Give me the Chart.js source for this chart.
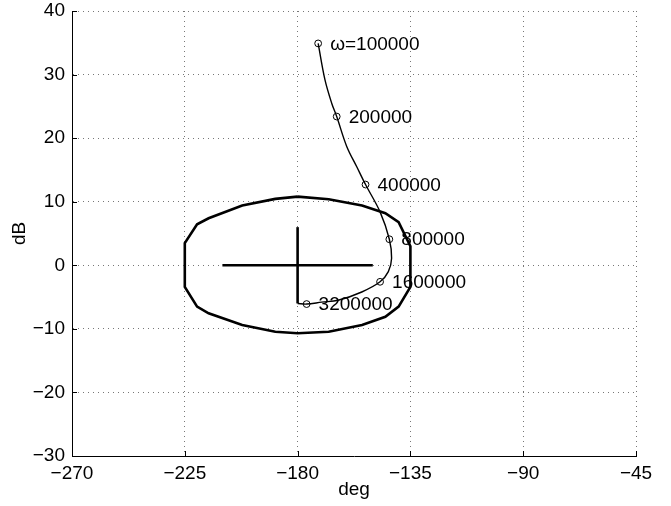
<!DOCTYPE html>
<html>
<head>
<meta charset="utf-8">
<script src="https://cdn.jsdelivr.net/npm/chart.js@4"></script>
<style>
  body { margin: 0; background: #fff; }
  #wrap { width: 671px; height: 506px; }
</style>
</head>
<body>
<div id="wrap"><canvas id="nichols" width="671" height="506"></canvas></div>
<script>
// axis ticks
const xTicks = [-270, -225, -180, -135, -90, -45];
const yTicks = [-30, -20, -10, 0, 10, 20, 30, 40];

// open-loop response (phase deg, gain dB)
const curveDeg = [-171.8, -169.1, -166.4, -164.4, -160.4, -156.4, -152.9, -147.1, -143.4, -142.5, -143.8, -147.1, -154.4, -163.8, -170.4, -176.4, -180];
const curveDb = [34.9, 29.2, 25.5, 23.4, 18.7, 15.5, 12.7, 8.4, 4.1, 1.1, -1.0, -2.6, -4.2, -5.5, -5.8, -6.1, -6.0];

// marked frequencies
const markLabels = ['\u03c9=100000', '200000', '400000', '800000', '1600000', '3200000'];
const markDeg = [-171.8, -164.4, -152.9, -143.4, -147.1, -176.4];
const markDb = [34.9, 23.4, 12.7, 4.1, -2.6, -6.1];

// closed contour round the critical point
const contourDeg = [-180, -167.6, -154.3, -145, -139.7, -135, -135, -139.7, -145, -154.3, -167.6, -180,
                    -188.9, -202.1, -215.5, -220.1, -225, -225, -220.1, -215.5, -202.1, -188.9, -180];
const contourDb = [10.8, 10.4, 9.4, 8.2, 6.8, 3.0, -3.4, -6.5, -8.1, -9.4, -10.45, -10.7,
                   -10.45, -9.4, -7.55, -6.5, -3.4, 3.5, 6.45, 7.4, 9.4, 10.45, 10.8];

// cross at -180 deg / 0 dB
const crossHDeg = [-210, -150];
const crossHDb = [0, 0];
const crossVDeg = [-180, -180];
const crossVDb = [-6, 6];

const FONT = '"Liberation Sans", Arial, Helvetica, sans-serif';

function pts(xs, ys) {
    return xs.map((x, i) => ({ x: x, y: ys[i] }));
}

function lineSet(xs, ys, width, tension) {
    return {
        data: pts(xs, ys),
        showLine: true,
        borderColor: '#000',
        borderWidth: width,
        pointRadius: 0,
        tension: tension,
        fill: false
    };
}

// inward tick marks, like the original figure
const tickMarks = {
    id: 'tickMarks',
    afterDraw(chart) {
        const { ctx, chartArea: a, scales: { x, y } } = chart;
        ctx.save();
        ctx.strokeStyle = '#000';
        ctx.lineWidth = 1;
        ctx.beginPath();
        xTicks.forEach(v => {
            const px = Math.round(x.getPixelForValue(v)) + 0.5;
            ctx.moveTo(px, a.bottom);
            ctx.lineTo(px, a.bottom - 5);
        });
        yTicks.forEach(v => {
            const py = Math.round(y.getPixelForValue(v)) + 0.5;
            ctx.moveTo(a.left, py);
            ctx.lineTo(a.left + 5, py);
        });
        ctx.stroke();
        ctx.restore();
    }
};

// frequency labels next to the markers
const freqLabels = {
    id: 'freqLabels',
    afterDatasetsDraw(chart) {
        const { ctx, scales: { x, y } } = chart;
        ctx.save();
        ctx.font = '19px ' + FONT;
        ctx.fillStyle = '#000';
        ctx.textAlign = 'left';
        ctx.textBaseline = 'middle';
        markLabels.forEach((t, i) => {
            ctx.fillText(t, x.getPixelForValue(markDeg[i]) + 12, y.getPixelForValue(markDb[i]) + 1);
        });
        ctx.restore();
    }
};

new Chart(document.getElementById('nichols').getContext('2d'), {
    type: 'scatter',
    data: {
        datasets: [
            lineSet(contourDeg, contourDb, 2.6, 0),
            lineSet(crossHDeg, crossHDb, 2.6, 0),
            lineSet(crossVDeg, crossVDb, 2.6, 0),
            lineSet(curveDeg, curveDb, 1.4, 0.35),
            {
                data: pts(markDeg, markDb),
                showLine: false,
                pointStyle: 'circle',
                pointRadius: 3.4,
                pointBorderWidth: 1,
                pointBorderColor: '#000',
                pointBackgroundColor: 'rgba(0,0,0,0)'
            }
        ]
    },
    options: {
        responsive: false,
        animation: false,
        layout: { padding: { left: 0, top: 11, right: 35, bottom: 0 } },
        plugins: {
            legend: { display: false },
            tooltip: { enabled: false }
        },
        scales: {
            x: {
                type: 'linear',
                min: -270,
                max: -45,
                afterBuildTicks: s => { s.ticks = xTicks.map(v => ({ value: v })); },
                afterFit: s => { s.height = 50; s.paddingLeft = 0; s.paddingRight = 0; },
                grid: { color: '#777', lineWidth: 1, drawTicks: false },
                border: { display: true, color: '#000', width: 1, dash: [1, 4] },
                ticks: {
                    color: '#000',
                    padding: 6,
                    maxRotation: 0,
                    autoSkip: false,
                    font: { family: FONT, size: 19 },
                    callback: v => String(v).replace('-', '\u2212')
                },
                title: {
                    display: true,
                    text: 'deg',
                    color: '#000',
                    font: { family: FONT, size: 19 },
                    padding: { top: 0, bottom: 5 }
                }
            },
            y: {
                type: 'linear',
                min: -30,
                max: 40,
                afterBuildTicks: s => { s.ticks = yTicks.map(v => ({ value: v })); },
                afterFit: s => { s.width = 72; s.paddingTop = 0; s.paddingBottom = 0; },
                grid: { color: '#777', lineWidth: 1, drawTicks: false },
                border: { display: true, color: '#000', width: 1, dash: [1, 4] },
                ticks: {
                    color: '#000',
                    padding: 7,
                    autoSkip: false,
                    font: { family: FONT, size: 19 },
                    callback: v => String(v).replace('-', '\u2212')
                },
                title: {
                    display: true,
                    text: 'dB',
                    color: '#000',
                    font: { family: FONT, size: 19 },
                    padding: { top: 8, bottom: 0 }
                }
            }
        }
    },
    plugins: [tickMarks, freqLabels]
});
</script>
</body>
</html>
